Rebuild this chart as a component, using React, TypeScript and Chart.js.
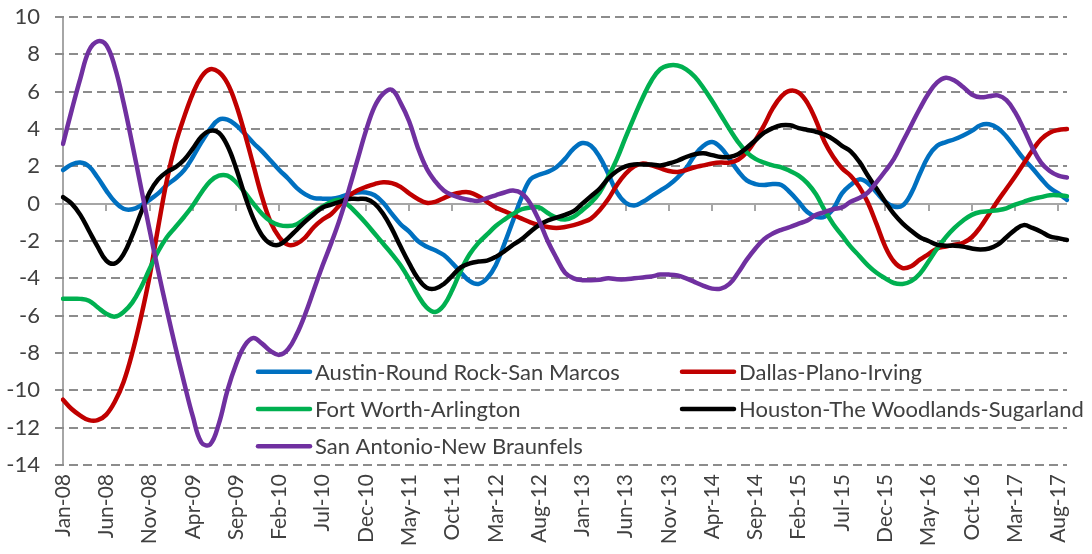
import React, { useEffect, useRef } from "react";
import { Chart, registerables } from "chart.js";

Chart.register(...registerables);

// ---------- categories (monthly, Jan-08 .. Sep-17) ----------
const months: string[] = [
  "Jan-08","Feb-08","Mar-08","Apr-08","May-08","Jun-08","Jul-08","Aug-08","Sep-08","Oct-08","Nov-08","Dec-08",
  "Jan-09","Feb-09","Mar-09","Apr-09","May-09","Jun-09","Jul-09","Aug-09","Sep-09","Oct-09","Nov-09","Dec-09",
  "Jan-10","Feb-10","Mar-10","Apr-10","May-10","Jun-10","Jul-10","Aug-10","Sep-10","Oct-10","Nov-10","Dec-10",
  "Jan-11","Feb-11","Mar-11","Apr-11","May-11","Jun-11","Jul-11","Aug-11","Sep-11","Oct-11","Nov-11","Dec-11",
  "Jan-12","Feb-12","Mar-12","Apr-12","May-12","Jun-12","Jul-12","Aug-12","Sep-12","Oct-12","Nov-12","Dec-12",
  "Jan-13","Feb-13","Mar-13","Apr-13","May-13","Jun-13","Jul-13","Aug-13","Sep-13","Oct-13","Nov-13","Dec-13",
  "Jan-14","Feb-14","Mar-14","Apr-14","May-14","Jun-14","Jul-14","Aug-14","Sep-14","Oct-14","Nov-14","Dec-14",
  "Jan-15","Feb-15","Mar-15","Apr-15","May-15","Jun-15","Jul-15","Aug-15","Sep-15","Oct-15","Nov-15","Dec-15",
  "Jan-16","Feb-16","Mar-16","Apr-16","May-16","Jun-16","Jul-16","Aug-16","Sep-16","Oct-16","Nov-16","Dec-16",
  "Jan-17","Feb-17","Mar-17","Apr-17","May-17","Jun-17","Jul-17","Aug-17","Sep-17",
];

// ---------- series values ----------
const austin: number[] = [
  1.8, 2.1, 2.2, 2.0, 1.4, 0.7, 0.1, -0.27, -0.3, -0.1,
  0.2, 0.55, 1.0, 1.35, 1.8, 2.5, 3.3, 4.0, 4.5, 4.5,
  4.2, 3.75, 3.25, 2.8, 2.3, 1.8, 1.35, 0.85, 0.5, 0.3,
  0.27, 0.27, 0.35, 0.5, 0.6, 0.6, 0.45, 0.05, -0.55, -1.1,
  -1.5, -2.0, -2.3, -2.5, -2.75, -3.2, -3.7, -4.15, -4.3, -4.0,
  -3.3, -2.15, -0.9, 0.35, 1.3, 1.55, 1.7, 1.95, 2.4, 2.95,
  3.25, 3.1, 2.5, 1.6, 0.6, 0.05, -0.1, 0.1, 0.4, 0.7,
  1.0, 1.4, 1.9, 2.6, 3.1, 3.3, 3.0, 2.4, 1.75, 1.25,
  1.05, 1.0, 1.05, 1.0, 0.6, 0.1, -0.45, -0.7, -0.7, -0.27,
  0.55, 1.0, 1.3, 1.1, 0.6, 0.1, -0.15, -0.1, 0.55, 1.6,
  2.55, 3.1, 3.3, 3.45, 3.65, 3.9, 4.2, 4.25, 4.05, 3.6,
  3.0, 2.4, 1.9, 1.35, 0.85, 0.55, 0.2,
];

const dallas: number[] = [
  -10.5, -11.0, -11.35, -11.6, -11.6, -11.3, -10.6, -9.55, -8.0, -6.1,
  -3.9, -1.25, 1.25, 3.2, 4.65, 5.9, 6.8, 7.2, 7.05, 6.45,
  5.3, 3.75, 2.05, 0.35, -1.0, -1.8, -2.2, -2.15, -1.8, -1.25,
  -0.85, -0.55, -0.05, 0.4, 0.7, 0.9, 1.05, 1.15, 1.1, 0.9,
  0.55, 0.25, 0.05, 0.1, 0.3, 0.5, 0.6, 0.6, 0.4, 0.1,
  -0.2, -0.4, -0.6, -0.8, -1.0, -1.15, -1.25, -1.3, -1.25, -1.15,
  -1.0, -0.8, -0.35, 0.25, 1.0, 1.6, 2.0, 2.15, 2.05, 1.9,
  1.75, 1.7, 1.8, 1.95, 2.05, 2.15, 2.2, 2.2, 2.35, 2.75,
  3.4, 4.2, 5.1, 5.75, 6.05, 5.95, 5.4, 4.45, 3.3, 2.5,
  1.9, 1.5, 0.9, 0.05, -1.1, -2.3, -3.1, -3.45, -3.35, -3.0,
  -2.7, -2.4, -2.3, -2.2, -2.1, -1.8, -1.25, -0.55, 0.15, 0.8,
  1.45, 2.15, 2.85, 3.45, 3.8, 3.95, 4.0,
];

const fortWorth: number[] = [
  -5.1, -5.1, -5.1, -5.2, -5.55, -5.9, -6.05, -5.8, -5.3, -4.5,
  -3.5, -2.55, -1.8, -1.25, -0.7, -0.1, 0.6, 1.2, 1.5, 1.5,
  1.15, 0.6, 0.0, -0.55, -0.95, -1.15, -1.2, -1.1, -0.8, -0.45,
  -0.15, 0.1, 0.2, -0.1, -0.55, -1.05, -1.6, -2.15, -2.7, -3.3,
  -4.05, -4.9, -5.55, -5.8, -5.45, -4.6, -3.55, -2.7, -2.1, -1.65,
  -1.2, -0.85, -0.55, -0.3, -0.2, -0.2, -0.5, -0.75, -0.85, -0.7,
  -0.35, 0.05, 0.6, 1.45, 2.4, 3.55, 4.65, 5.7, 6.6, 7.2,
  7.4, 7.4, 7.2, 6.8, 6.2, 5.5, 4.75, 4.0, 3.3, 2.75,
  2.4, 2.2, 2.05, 1.95, 1.75, 1.5, 1.1, 0.5, -0.35, -1.1,
  -1.7, -2.3, -2.8, -3.3, -3.7, -4.0, -4.25, -4.3, -4.15, -3.75,
  -3.1, -2.4, -1.8, -1.3, -0.9, -0.6, -0.45, -0.4, -0.35, -0.25,
  -0.05, 0.1, 0.25, 0.35, 0.45, 0.45, 0.4,
];

const houston: number[] = [
  0.35, 0.0, -0.6, -1.45, -2.3, -3.05, -3.2, -2.7, -1.7, -0.5,
  0.6, 1.3, 1.7, 1.95, 2.35, 2.95, 3.6, 3.9, 3.8, 3.1,
  1.9, 0.45, -0.8, -1.7, -2.15, -2.2, -1.85, -1.4, -0.95, -0.55,
  -0.2, -0.05, 0.1, 0.25, 0.25, 0.25, 0.0, -0.55, -1.35, -2.3,
  -3.2, -4.0, -4.5, -4.55, -4.3, -3.85, -3.4, -3.2, -3.1, -3.05,
  -2.85, -2.55, -2.2, -1.9, -1.5, -1.15, -0.9, -0.75, -0.6, -0.4,
  0.0, 0.4, 0.8, 1.35, 1.75, 2.0, 2.1, 2.1, 2.1, 2.05,
  2.15, 2.3, 2.5, 2.65, 2.7, 2.6, 2.5, 2.5, 2.65, 3.0,
  3.4, 3.8, 4.05, 4.2, 4.2, 4.05, 3.95, 3.85, 3.7, 3.45,
  3.1, 2.8, 2.25, 1.5, 0.8, 0.1, -0.55, -1.05, -1.45, -1.8,
  -2.0, -2.2, -2.25, -2.25, -2.3, -2.4, -2.45, -2.4, -2.2, -1.8,
  -1.4, -1.15, -1.3, -1.5, -1.75, -1.85, -1.95,
];

const sanAntonio: number[] = [
  3.2, 5.0, 6.7, 8.2, 8.7, 8.5, 7.3, 5.4, 3.2, 0.9,
  -1.4, -3.6, -5.7, -7.7, -9.6, -11.4, -12.8, -12.9, -11.8, -10.0,
  -8.6, -7.6, -7.2, -7.5, -7.9, -8.1, -7.8, -7.0, -5.9, -4.6,
  -3.3, -2.1, -0.8, 0.7, 2.3, 3.9, 5.2, 5.9, 6.1, 5.4,
  4.4, 3.0, 1.9, 1.2, 0.7, 0.45, 0.3, 0.2, 0.15, 0.3,
  0.45, 0.6, 0.7, 0.55, 0.0, -0.9, -2.0, -2.9, -3.7, -4.0,
  -4.1, -4.1, -4.07, -4.0, -4.05, -4.05, -4.0, -3.95, -3.9, -3.8,
  -3.8, -3.85, -4.0, -4.2, -4.4, -4.55, -4.55, -4.3, -3.7, -3.0,
  -2.4, -1.9, -1.6, -1.4, -1.25, -1.07, -0.9, -0.6, -0.45, -0.3,
  -0.2, 0.1, 0.3, 0.6, 1.15, 1.75, 2.4, 3.3, 4.2, 5.1,
  5.9, 6.5, 6.75, 6.6, 6.25, 5.85, 5.7, 5.75, 5.8, 5.55,
  4.9, 4.0, 3.0, 2.2, 1.75, 1.5, 1.4,
];

const seriesNames: string[] = [
  "Austin-Round Rock-San Marcos",
  "Dallas-Plano-Irving",
  "Fort Worth-Arlington",
  "Houston-The Woodlands-Sugarland",
  "San Antonio-New Braunfels",
];
const seriesColors: string[] = ["#0070C0", "#C00000", "#00B050", "#000000", "#7030A0"];

// axis settings
const yMin = -14;
const yMax = 10;
const yStep = 2;
const xLabelEvery = 5;
// legend rows sit between gridlines at these values
const legendRowValues: number[] = [-9, -11, -13];

const FONT = "Lato, 'Open Sans', sans-serif";
const TEXT_COLOR = "#404040";

export default function App() {
  const ref = useRef<HTMLCanvasElement | null>(null);

  useEffect(() => {
    const canvas = ref.current;
    if (!canvas) return;
    const allSeries = [austin, dallas, fortWorth, houston, sanAntonio];

    const gridPlugin = {
      id: "excelGrid",
      beforeDatasetsDraw(chart: any) {
        const { ctx, chartArea, scales } = chart;
        const ys = scales.y;
        ctx.save();
        // dashed horizontal gridlines, drawn dash by dash (with stubs left of the axis)
        ctx.fillStyle = "#8c8c8c";
        const dash = 9;
        const gap = 5;
        const x0 = chartArea.left - 8;
        ys.ticks.forEach((t: any) => {
          if (t.value === 0) return;
          const y = Math.round(ys.getPixelForValue(t.value));
          for (let x = x0; x < chartArea.right; x += dash + gap) {
            const w = Math.min(dash, chartArea.right - x);
            ctx.fillRect(x, y - 1, w, 2);
          }
        });
        // horizontal axis at zero with tick marks
        const y0 = Math.round(ys.getPixelForValue(0));
        ctx.fillStyle = "#a6a6a6";
        ctx.fillRect(x0, y0 - 1, chartArea.right - x0, 2);
        for (let i = 0; i < months.length; i += xLabelEvery) {
          const x = Math.round(scales.x.getPixelForValue(i));
          ctx.fillRect(x - 1, y0, 2, 7);
        }
        ctx.restore();
      },
    };

    const legendPlugin = {
      id: "insideLegend",
      afterDatasetsDraw(chart: any) {
        const { ctx, scales } = chart;
        const colX = [258, 682];
        ctx.save();
        seriesNames.forEach((name, k) => {
          const col = k % 2;
          const row = Math.floor(k / 2);
          const cy = scales.y.getPixelForValue(legendRowValues[row]);
          const lx = colX[col];
          ctx.strokeStyle = seriesColors[k];
          ctx.lineWidth = 4.5;
          ctx.lineCap = "round";
          ctx.beginPath();
          ctx.moveTo(lx, cy);
          ctx.lineTo(lx + 52, cy);
          ctx.stroke();
          ctx.fillStyle = TEXT_COLOR;
          ctx.font = `22px ${FONT}`;
          ctx.textBaseline = "middle";
          ctx.textAlign = "left";
          ctx.fillText(name, lx + 57, cy + 1);
        });
        ctx.restore();
      },
    };

    const chart = new Chart(canvas, {
      type: "line",
      data: {
        labels: months,
        datasets: allSeries.map((data, k) => ({
          label: seriesNames[k],
          data,
          borderColor: seriesColors[k],
          backgroundColor: seriesColors[k],
          borderWidth: 4.5,
          pointRadius: 0,
          tension: 0.4,
          fill: false,
          borderCapStyle: "round" as const,
          borderJoinStyle: "round" as const,
          order: allSeries.length - 1 - k,
        })),
      },
      options: {
        responsive: false,
        animation: false,
        layout: { padding: { top: 17, right: 25, left: 0, bottom: 0 } },
        plugins: {
          legend: { display: false },
          tooltip: { enabled: false },
          title: { display: false },
        },
        scales: {
          x: {
            type: "category",
            offset: false,
            grid: { display: false, drawTicks: false },
            border: { display: false },
            ticks: {
              autoSkip: false,
              maxRotation: 90,
              minRotation: 90,
              padding: 9,
              color: TEXT_COLOR,
              font: { family: FONT, size: 21 },
              callback: (_v: any, i: number) => (i % xLabelEvery === 0 ? months[i] : null),
            },
            afterFit: (scale: any) => {
              scale.height = 89;
              scale.paddingLeft = 0;
              scale.paddingRight = 0;
            },
          },
          y: {
            min: yMin,
            max: yMax,
            grid: { display: false, drawTicks: false },
            border: { display: true, color: "#a6a6a6", width: 2 },
            ticks: {
              stepSize: yStep,
              padding: 23,
              color: TEXT_COLOR,
              font: { family: FONT, size: 22 },
            },
            afterFit: (scale: any) => {
              scale.width = 63;
              scale.paddingTop = 0;
              scale.paddingBottom = 0;
            },
          },
        },
      },
      plugins: [gridPlugin, legendPlugin],
    } as any);

    return () => chart.destroy();
  }, []);

  return (
    <div style={{ position: "absolute", left: 0, top: 0, width: 1092, height: 554, background: "#ffffff" }}>
      <canvas ref={ref} width={1092} height={554} style={{ display: "block", width: 1092, height: 554 }} />
    </div>
  );
}
